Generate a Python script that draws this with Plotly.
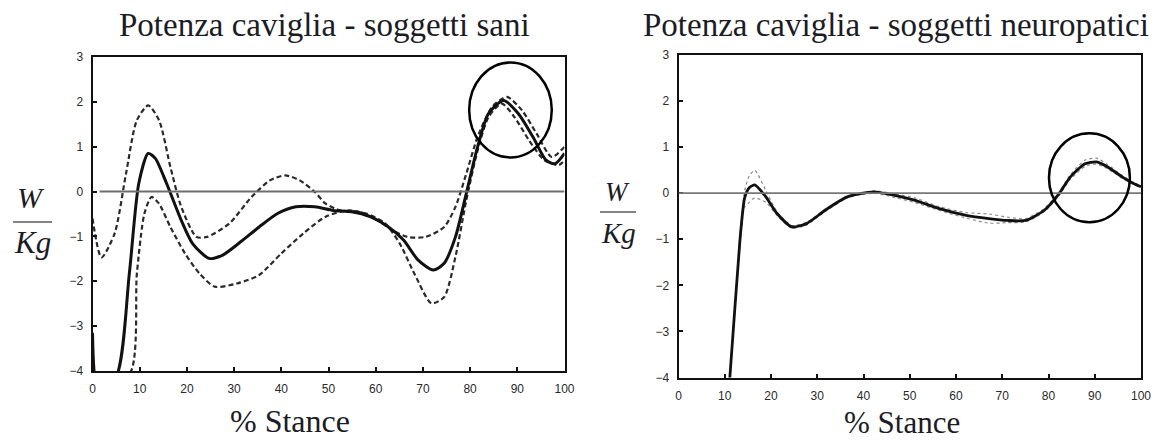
import plotly.graph_objects as go

# ---- Ankle power, healthy subjects (mean and +/- band) ----
sani_x = [0, 1.2, 5.1, 7.8, 9.8, 11.8, 13.3, 15.7, 18.8, 21.2, 24.7, 27.5, 31.4, 35.3, 39.2,
          43.1, 47.1, 51, 54.9, 58.8, 62.7, 65.9, 69, 72.2, 74.5, 76.9, 79.2, 81.6, 83.9,
          87.1, 90.2, 93.3, 96.1, 98, 100]
sani_mean = [-3.15, -4.4, -4.1, -1.83, 0.18, 0.85, 0.74, 0.18, -0.64, -1.16, -1.49, -1.42, -1.12,
             -0.79, -0.49, -0.34, -0.34, -0.42, -0.45, -0.56, -0.79, -1.08, -1.53, -1.75, -1.6,
             -1.01, -0.04, 1.0, 1.74, 2.03, 1.74, 1.22, 0.70, 0.62, 0.85]

sani_up_x = [0, 1.9, 4.7, 7.1, 9.4, 11.8, 14.1, 16.5, 18.8, 22, 24.3, 29, 33.7, 37.6, 40.8, 43.9,
             47.1, 49.4, 52.5, 56.5, 60.4, 63.5, 66.7, 70.6, 74.5, 76.9, 79.2, 81.6, 84.7, 87.8,
             91, 94.1, 97.3, 100]
sani_up = [-0.6, -1.47, -0.93, 0.4, 1.59, 1.92, 1.59, 0.55, -0.34, -1.01, -1.01, -0.71, -0.12,
           0.25, 0.36, 0.25, -0.01, -0.27, -0.42, -0.45, -0.64, -0.86, -1.01, -1.01, -0.79, -0.34,
           0.4, 1.22, 1.89, 2.11, 1.81, 1.29, 0.77, 1.0]

sani_lo_x = [0, 7.9, 9.4, 11, 12.5, 14.1, 16.5, 19.6, 22.7, 25.9, 30.6, 35.3, 40, 44.7, 49.4,
             54.1, 58, 62, 65.1, 68.2, 71.8, 74.5, 76.9, 79.2, 81.6, 83.9, 86.7, 89.4, 92.5,
             95.7, 98.8, 100]
sani_lo = [-4.3, -4.05, -1.83, -0.49, -0.12, -0.27, -0.79, -1.38, -1.83, -2.12, -2.05, -1.86,
           -1.38, -0.93, -0.56, -0.42, -0.49, -0.71, -1.16, -1.83, -2.49, -2.35, -1.45, -0.19,
           0.92, 1.66, 1.96, 1.66, 1.14, 0.7, 0.59, 0.7]

# ---- Ankle power, neuropathic subjects ----
neuro_x = [0, 10.8, 11.1, 13.3, 14.3, 15.3, 16.5, 18.9, 21.3, 24.5, 27.7, 31.7, 36.5, 42.2, 47,
           51, 56.6, 62.2, 67.1, 71.1, 75.1, 79.1, 82.3, 84.7, 87.9, 90.4, 92.8, 96, 98.4, 100]
neuro_mean = [-4.3, -4.3, -4.0, -1.0, -0.1, 0.12, 0.18, -0.08, -0.44, -0.73, -0.66, -0.37, -0.08,
              0.03, -0.05, -0.15, -0.34, -0.48, -0.55, -0.59, -0.59, -0.37, -0.01, 0.35, 0.64,
              0.68, 0.57, 0.35, 0.21, 0.14]
neuro_up = [-4.3, -4.3, -4.0, -0.9, 0.05, 0.38, 0.5, 0.05, -0.4, -0.7, -0.63, -0.35, -0.06,
            0.05, -0.02, -0.1, -0.3, -0.42, -0.45, -0.52, -0.55, -0.33, 0.03, 0.4, 0.72, 0.76,
            0.62, 0.38, 0.23, 0.15]
neuro_lo = [-4.3, -4.3, -4.0, -1.1, -0.3, -0.2, -0.1, -0.2, -0.48, -0.76, -0.69, -0.4, -0.1,
            0.0, -0.1, -0.2, -0.38, -0.54, -0.65, -0.64, -0.62, -0.4, -0.05, 0.3, 0.58, 0.63,
            0.53, 0.32, 0.19, 0.13]

x_ticks = [0, 10, 20, 30, 40, 50, 60, 70, 80, 90, 100]
y_ticks = [-4, -3, -2, -1, 0, 1, 2, 3]

titles = ["Potenza caviglia - soggetti sani", "Potenza caviglia - soggetti neuropatici"]
x_label = "% Stance"

W, H = 1163, 441
SERIF = "Liberation Serif, Times New Roman, serif"
TXT = "#1c1c24"

fig = go.Figure()

# left panel: short-dashed band limits, solid mean
band_line = dict(color="#2a2a2a", width=2.2, dash="5px,3px", shape="spline", smoothing=0.7)
fig.add_trace(go.Scatter(x=sani_up_x, y=sani_up, mode="lines", xaxis="x", yaxis="y",
                         line=band_line))
fig.add_trace(go.Scatter(x=sani_lo_x, y=sani_lo, mode="lines", xaxis="x", yaxis="y",
                         line=band_line))
fig.add_trace(go.Scatter(x=sani_x, y=sani_mean, mode="lines", xaxis="x", yaxis="y",
                         line=dict(color="#111111", width=3, shape="spline", smoothing=0.7)))

# right panel: thin dotted band limits hugging the mean
thin_line = dict(color="#8a8a8a", width=1.2, dash="dot", shape="spline", smoothing=0.6)
fig.add_trace(go.Scatter(x=neuro_x, y=neuro_up, mode="lines", xaxis="x2", yaxis="y2",
                         line=thin_line))
fig.add_trace(go.Scatter(x=neuro_x, y=neuro_lo, mode="lines", xaxis="x2", yaxis="y2",
                         line=thin_line))
fig.add_trace(go.Scatter(x=neuro_x, y=neuro_mean, mode="lines", xaxis="x2", yaxis="y2",
                         line=dict(color="#111111", width=2.8, shape="spline", smoothing=0.6)))

axis_common = dict(showgrid=False, zeroline=False, showline=True, mirror=True,
                   linecolor="#111111", linewidth=2, ticks="inside", ticklen=4,
                   tickcolor="#111111", tickwidth=1.5,
                   tickfont=dict(family="Liberation Sans, Arial, sans-serif", size=12,
                                 color="#2a2a2a"))

def xa(domain, anchor):
    d = dict(axis_common)
    d.update(range=[0, 100], domain=domain, tickvals=x_ticks, anchor=anchor,
             ticklabelstandoff=6)
    return d

def ya(domain, anchor):
    d = dict(axis_common)
    d.update(range=[-4, 3], domain=domain, tickvals=y_ticks, anchor=anchor,
             ticklabelstandoff=5)
    return d

lx = [92.5 / W, 564.5 / W]
ly = [1 - 371 / H, 1 - 57 / H]
rx = [678.5 / W, 1141 / W]
ry = [1 - 377.5 / H, 1 - 55 / H]

fig.update_layout(
    width=W, height=H,
    margin=dict(l=0, r=0, t=0, b=0, autoexpand=False),
    paper_bgcolor="white", plot_bgcolor="white",
    showlegend=False,
    xaxis=xa(lx, "y"), yaxis=ya(ly, "x"),
    xaxis2=xa(rx, "y2"), yaxis2=ya(ry, "x2"),
)

# zero reference lines
fig.add_shape(type="line", xref="x", yref="y", x0=1.5, x1=100, y0=0, y1=0,
              line=dict(color="#6e6e6e", width=2))
fig.add_shape(type="line", xref="x2", yref="y2", x0=0, x1=100, y0=0, y1=0,
              line=dict(color="#777777", width=1.8))

# highlight rings around push-off peaks
fig.add_shape(type="circle", xref="x", yref="y", x0=79.8, x1=97.3, y0=0.76, y1=2.88,
              line=dict(color="black", width=2.5))
fig.add_shape(type="circle", xref="x2", yref="y2", x0=80.1, x1=97.6, y0=-0.63, y1=1.30,
              line=dict(color="black", width=2.5))

def ann(text, x, y, size, italic=False):
    fig.add_annotation(text=text, x=x / W, y=1 - y / H, xref="paper", yref="paper",
                       showarrow=False, xanchor="center", yanchor="middle",
                       font=dict(family=SERIF, size=size, color=TXT,
                                 style="italic" if italic else "normal"))

# panel titles
ann(titles[0], 324, 25, 33)
ann(titles[1], 896, 25, 33)

# x-axis labels
ann(x_label, 290, 421, 32)
ann(x_label, 902, 422, 31)

# W/Kg unit fractions
ann("W", 31, 197, 30, italic=True)
ann("Kg", 32, 243, 31, italic=True)
fig.add_shape(type="line", xref="paper", yref="paper", x0=13 / W, x1=52 / W,
              y0=1 - 222 / H, y1=1 - 222 / H, line=dict(color="#5a5a5a", width=1.5))
ann("W", 617, 192, 27, italic=True)
ann("Kg", 618, 233, 29, italic=True)
fig.add_shape(type="line", xref="paper", yref="paper", x0=600 / W, x1=636 / W,
              y0=1 - 212 / H, y1=1 - 212 / H, line=dict(color="#5a5a5a", width=1.5))

fig.write_html("out.html")
